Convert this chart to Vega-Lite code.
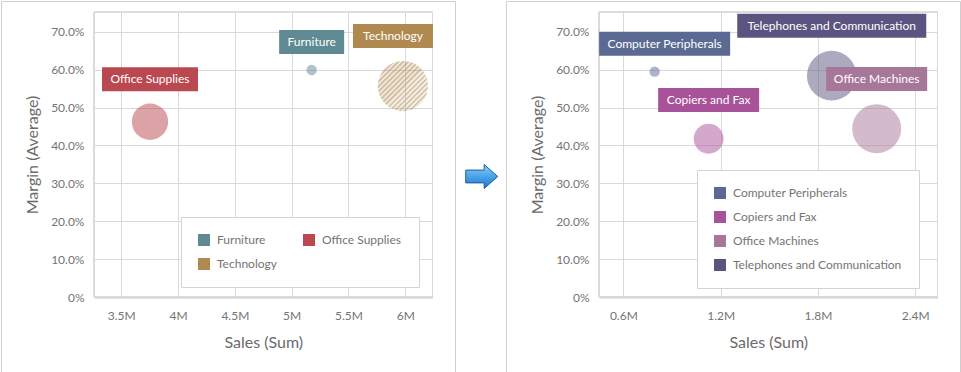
{
  "$schema": "https://vega.github.io/schema/vega-lite/v6.json",
  "padding": 0,
  "background": "white",
  "spacing": 0,
  "resolve": {"scale": {"color": "independent", "size": "independent"}, "legend": {"color": "independent", "size": "independent"}},
  "config": {
    "font": "Lato",
    "view": {"stroke": "#cfcfcf"},
    "concat": {"spacing": 0},
    "axis": {
      "labelFontSize": 12, "labelColor": "#747474", "labelFlush": false, "labelOverlap": false,
      "titleFontSize": 16, "titleFontWeight": "normal", "titleColor": "#6b6b6b",
      "gridColor": "#d9d9d9", "ticks": false, "domainColor": "#d9d9d9"
    },
    "legend": {
      "orient": "none", "title": null, "symbolType": "square", "symbolSize": 144, "symbolOpacity": 1,
      "symbolStrokeWidth": 0, "labelFontSize": 12, "labelColor": "#747474", "labelOffset": 7, "labelLimit": 400,
      "rowPadding": 12, "padding": 17, "strokeColor": "#d4d4d4", "fillColor": "white"
    }
  },
  "hconcat": [
    {
      "width": 454, "height": 371,
      "view": {"stroke": "#cfcfcf"},
      "data": {"values": [
        {"Category": "Furniture", "Sales": 5176000, "Margin": 0.599, "Quantity": 2340},
        {"Category": "Office Supplies", "Sales": 3753000, "Margin": 0.4625, "Quantity": 8200},
        {"Category": "Technology", "Sales": 5980000, "Margin": 0.5567, "Quantity": 11340}
      ]},
      "encoding": {
        "x": {"field": "Sales", "type": "quantitative",
          "scale": {"domain": [3260000, 6240000], "range": [93, 431.5], "nice": false, "zero": false},
          "axis": {"orient": "top", "offset": -296, "title": "Sales (Sum)", "grid": true,
            "values": [3500000, 4000000, 4500000, 5000000, 5500000, 6000000],
            "labelExpr": "format(datum.value / 1000000, '.1~f') + 'M'",
            "domainColor": "#c8c8c8", "domainWidth": 2, "labelPadding": -13, "labelBaseline": "top",
            "titleY": 45, "titleBaseline": "middle"}},
        "y": {"field": "Margin", "type": "quantitative",
          "scale": {"domain": [0, 0.752], "range": [296, 11], "nice": false, "zero": false},
          "axis": {"orient": "left", "offset": -93, "title": "Margin (Average)", "grid": true,
            "values": [0, 0.1, 0.2, 0.3, 0.4, 0.5, 0.6, 0.7],
            "labelExpr": "datum.value === 0 ? '0%' : format(datum.value, '.1%')",
            "labelPadding": 10, "titlePadding": 10}}
      },
      "layer": [
        {
          "mark": {"type": "rect", "fill": null, "stroke": "#d9d9d9", "strokeWidth": 1},
          "encoding": {
            "x": {"datum": 3260000, "type": "quantitative"},
            "x2": {"datum": 6240000},
            "y": {"datum": 0, "type": "quantitative"},
            "y2": {"datum": 0.752}
          }
        },
        {
          "transform": [{"filter": "datum.Category !== 'Technology'"}],
          "mark": {"type": "point", "filled": true, "opacity": 0.5, "strokeWidth": 0},
          "encoding": {
            "color": {"field": "Category", "type": "nominal",
              "scale": {"domain": ["Furniture", "Office Supplies", "Technology"], "range": ["#5F8A94", "#B94850", "#B08950"]},
              "legend": {"legendX": 180, "legendY": 216, "columns": 2, "direction": "horizontal", "columnPadding": 26}},
            "size": {"field": "Quantity", "type": "quantitative", "scale": {"type": "pow", "exponent": 2, "domain": [0, 12000], "range": [0, 2827]}, "legend": null}
          }
        },
        {
          "transform": [{"filter": "datum.Category === 'Technology'"}],
          "mark": {"type": "point", "filled": true, "opacity": 1, "strokeWidth": 0,
            "fill": {"gradient": "linear", "x1": 0, "y1": 0, "x2": 1, "y2": 1, "stops": [
              {"offset": 0, "color": "rgba(176,137,80,0.5)"}, {"offset": 0.025, "color": "rgba(176,137,80,0.5)"}, {"offset": 0.025, "color": "rgba(176,137,80,0.18)"}, {"offset": 0.05, "color": "rgba(176,137,80,0.18)"},
              {"offset": 0.05, "color": "rgba(176,137,80,0.5)"}, {"offset": 0.075, "color": "rgba(176,137,80,0.5)"}, {"offset": 0.075, "color": "rgba(176,137,80,0.18)"}, {"offset": 0.1, "color": "rgba(176,137,80,0.18)"},
              {"offset": 0.1, "color": "rgba(176,137,80,0.5)"}, {"offset": 0.125, "color": "rgba(176,137,80,0.5)"}, {"offset": 0.125, "color": "rgba(176,137,80,0.18)"}, {"offset": 0.15, "color": "rgba(176,137,80,0.18)"},
              {"offset": 0.15, "color": "rgba(176,137,80,0.5)"}, {"offset": 0.175, "color": "rgba(176,137,80,0.5)"}, {"offset": 0.175, "color": "rgba(176,137,80,0.18)"}, {"offset": 0.2, "color": "rgba(176,137,80,0.18)"},
              {"offset": 0.2, "color": "rgba(176,137,80,0.5)"}, {"offset": 0.225, "color": "rgba(176,137,80,0.5)"}, {"offset": 0.225, "color": "rgba(176,137,80,0.18)"}, {"offset": 0.25, "color": "rgba(176,137,80,0.18)"},
              {"offset": 0.25, "color": "rgba(176,137,80,0.5)"}, {"offset": 0.275, "color": "rgba(176,137,80,0.5)"}, {"offset": 0.275, "color": "rgba(176,137,80,0.18)"}, {"offset": 0.3, "color": "rgba(176,137,80,0.18)"},
              {"offset": 0.3, "color": "rgba(176,137,80,0.5)"}, {"offset": 0.325, "color": "rgba(176,137,80,0.5)"}, {"offset": 0.325, "color": "rgba(176,137,80,0.18)"}, {"offset": 0.35, "color": "rgba(176,137,80,0.18)"},
              {"offset": 0.35, "color": "rgba(176,137,80,0.5)"}, {"offset": 0.375, "color": "rgba(176,137,80,0.5)"}, {"offset": 0.375, "color": "rgba(176,137,80,0.18)"}, {"offset": 0.4, "color": "rgba(176,137,80,0.18)"},
              {"offset": 0.4, "color": "rgba(176,137,80,0.5)"}, {"offset": 0.425, "color": "rgba(176,137,80,0.5)"}, {"offset": 0.425, "color": "rgba(176,137,80,0.18)"}, {"offset": 0.45, "color": "rgba(176,137,80,0.18)"},
              {"offset": 0.45, "color": "rgba(176,137,80,0.5)"}, {"offset": 0.475, "color": "rgba(176,137,80,0.5)"}, {"offset": 0.475, "color": "rgba(176,137,80,0.18)"}, {"offset": 0.5, "color": "rgba(176,137,80,0.18)"},
              {"offset": 0.5, "color": "rgba(176,137,80,0.5)"}, {"offset": 0.525, "color": "rgba(176,137,80,0.5)"}, {"offset": 0.525, "color": "rgba(176,137,80,0.18)"}, {"offset": 0.55, "color": "rgba(176,137,80,0.18)"},
              {"offset": 0.55, "color": "rgba(176,137,80,0.5)"}, {"offset": 0.575, "color": "rgba(176,137,80,0.5)"}, {"offset": 0.575, "color": "rgba(176,137,80,0.18)"}, {"offset": 0.6, "color": "rgba(176,137,80,0.18)"},
              {"offset": 0.6, "color": "rgba(176,137,80,0.5)"}, {"offset": 0.625, "color": "rgba(176,137,80,0.5)"}, {"offset": 0.625, "color": "rgba(176,137,80,0.18)"}, {"offset": 0.65, "color": "rgba(176,137,80,0.18)"},
              {"offset": 0.65, "color": "rgba(176,137,80,0.5)"}, {"offset": 0.675, "color": "rgba(176,137,80,0.5)"}, {"offset": 0.675, "color": "rgba(176,137,80,0.18)"}, {"offset": 0.7, "color": "rgba(176,137,80,0.18)"},
              {"offset": 0.7, "color": "rgba(176,137,80,0.5)"}, {"offset": 0.725, "color": "rgba(176,137,80,0.5)"}, {"offset": 0.725, "color": "rgba(176,137,80,0.18)"}, {"offset": 0.75, "color": "rgba(176,137,80,0.18)"},
              {"offset": 0.75, "color": "rgba(176,137,80,0.5)"}, {"offset": 0.775, "color": "rgba(176,137,80,0.5)"}, {"offset": 0.775, "color": "rgba(176,137,80,0.18)"}, {"offset": 0.8, "color": "rgba(176,137,80,0.18)"},
              {"offset": 0.8, "color": "rgba(176,137,80,0.5)"}, {"offset": 0.825, "color": "rgba(176,137,80,0.5)"}, {"offset": 0.825, "color": "rgba(176,137,80,0.18)"}, {"offset": 0.85, "color": "rgba(176,137,80,0.18)"},
              {"offset": 0.85, "color": "rgba(176,137,80,0.5)"}, {"offset": 0.875, "color": "rgba(176,137,80,0.5)"}, {"offset": 0.875, "color": "rgba(176,137,80,0.18)"}, {"offset": 0.9, "color": "rgba(176,137,80,0.18)"},
              {"offset": 0.9, "color": "rgba(176,137,80,0.5)"}, {"offset": 0.925, "color": "rgba(176,137,80,0.5)"}, {"offset": 0.925, "color": "rgba(176,137,80,0.18)"}, {"offset": 0.95, "color": "rgba(176,137,80,0.18)"},
              {"offset": 0.95, "color": "rgba(176,137,80,0.5)"}, {"offset": 0.975, "color": "rgba(176,137,80,0.5)"}, {"offset": 0.975, "color": "rgba(176,137,80,0.18)"}, {"offset": 1, "color": "rgba(176,137,80,0.18)"}
            ]}},
          "encoding": {
            "size": {"field": "Quantity", "type": "quantitative", "legend": null}
          }
        },
        {
          "transform": [{"filter": "datum.Category === 'Office Supplies'"}],
          "encoding": {"color": {"field": "Category", "type": "nominal", "legend": null}},
          "layer": [
            {"mark": {"type": "rect", "width": 96, "height": 24, "align": "center", "baseline": "middle", "yOffset": -42.5}},
            {"mark": {"type": "text", "fontSize": 12, "align": "center", "baseline": "middle", "yOffset": -42.5}, "encoding": {"text": {"field": "Category"}, "color": {"value": "white"}}}
          ]
        },
        {
          "transform": [{"filter": "datum.Category === 'Furniture'"}],
          "encoding": {"color": {"field": "Category", "type": "nominal", "legend": null}},
          "layer": [
            {"mark": {"type": "rect", "width": 65, "height": 24, "align": "center", "baseline": "middle", "yOffset": -28}},
            {"mark": {"type": "text", "fontSize": 12, "align": "center", "baseline": "middle", "yOffset": -28}, "encoding": {"text": {"field": "Category"}, "color": {"value": "white"}}}
          ]
        },
        {
          "transform": [{"filter": "datum.Category === 'Technology'"}],
          "encoding": {"color": {"field": "Category", "type": "nominal", "legend": null}},
          "layer": [
            {"mark": {"type": "rect", "width": 80, "height": 24, "align": "center", "baseline": "middle", "xOffset": -10, "yOffset": -50}},
            {"mark": {"type": "text", "fontSize": 12, "align": "center", "baseline": "middle", "xOffset": -10, "yOffset": -50}, "encoding": {"text": {"field": "Category"}, "color": {"value": "white"}}}
          ]
        }
      ]
    },
    {
      "width": 48.5, "height": 371,
      "view": {"stroke": null},
      "data": {"values": [{"Step": "to"}]},
      "mark": {"type": "point", "shape": "M -1 -0.4 L 0.15 -0.4 L 0.15 -0.75 L 1 0 L 0.15 0.75 L 0.15 0.4 L -1 0.4 Z",
        "size": 1024, "filled": true, "opacity": 1, "xOffset": 1.5, "yOffset": -10,
        "stroke": "#1d5c9c", "strokeWidth": 1,
        "fill": {"gradient": "linear", "x1": 0, "y1": 0, "x2": 0, "y2": 1, "stops": [
          {"offset": 0, "color": "#8ccdf7"}, {"offset": 0.5, "color": "#4aa3ea"}, {"offset": 1, "color": "#1f74cf"}]}},
      "encoding": {}
    },
    {
      "width": 454, "height": 371,
      "view": {"stroke": "#cfcfcf"},
      "data": {"values": [
        {"Category": "Computer Peripherals", "Sales": 793000, "Margin": 0.5945, "Quantity": 2340},
        {"Category": "Copiers and Fax", "Sales": 1126000, "Margin": 0.4177, "Quantity": 6740},
        {"Category": "Office Machines", "Sales": 2162000, "Margin": 0.444, "Quantity": 11060},
        {"Category": "Telephones and Communication", "Sales": 1885000, "Margin": 0.584, "Quantity": 11200}
      ]},
      "encoding": {
        "x": {"field": "Sales", "type": "quantitative",
          "scale": {"domain": [450000, 2537000], "range": [93, 431.5], "nice": false, "zero": false},
          "axis": {"orient": "top", "offset": -296, "title": "Sales (Sum)", "grid": true,
            "values": [600000, 1200000, 1800000, 2400000],
            "labelExpr": "format(datum.value / 1000000, '.1~f') + 'M'",
            "domainColor": "#c8c8c8", "domainWidth": 2, "labelPadding": -13, "labelBaseline": "top",
            "titleY": 45, "titleBaseline": "middle"}},
        "y": {"field": "Margin", "type": "quantitative",
          "scale": {"domain": [0, 0.752], "range": [296, 11], "nice": false, "zero": false},
          "axis": {"orient": "left", "offset": -93, "title": "Margin (Average)", "grid": true,
            "values": [0, 0.1, 0.2, 0.3, 0.4, 0.5, 0.6, 0.7],
            "labelExpr": "datum.value === 0 ? '0%' : format(datum.value, '.1%')",
            "labelPadding": 10, "titlePadding": 10}}
      },
      "layer": [
        {
          "mark": {"type": "rect", "fill": null, "stroke": "#d9d9d9", "strokeWidth": 1},
          "encoding": {
            "x": {"datum": 450000, "type": "quantitative"},
            "x2": {"datum": 2537000},
            "y": {"datum": 0, "type": "quantitative"},
            "y2": {"datum": 0.752}
          }
        },
        {
          "mark": {"type": "point", "filled": true, "opacity": 0.5, "strokeWidth": 0},
          "encoding": {
            "color": {"field": "Category", "type": "nominal",
              "scale": {"domain": ["Computer Peripherals", "Copiers and Fax", "Office Machines", "Telephones and Communication"], "range": ["#5B6A93", "#A8529A", "#A7779A", "#5B5480"]},
              "legend": {"legendX": 191, "legendY": 169, "columns": 1}},
            "size": {"field": "Quantity", "type": "quantitative", "scale": {"type": "pow", "exponent": 2, "domain": [0, 12000], "range": [0, 2827]}, "legend": null}
          }
        },
        {
          "transform": [{"filter": "datum.Category === 'Computer Peripherals'"}],
          "encoding": {"color": {"field": "Category", "type": "nominal", "legend": null}},
          "layer": [
            {"mark": {"type": "rect", "width": 131, "height": 24, "align": "center", "baseline": "middle", "xOffset": 10, "yOffset": -28}},
            {"mark": {"type": "text", "fontSize": 12, "align": "center", "baseline": "middle", "xOffset": 10, "yOffset": -28}, "encoding": {"text": {"field": "Category"}, "color": {"value": "white"}}}
          ]
        },
        {
          "transform": [{"filter": "datum.Category === 'Copiers and Fax'"}],
          "encoding": {"color": {"field": "Category", "type": "nominal", "legend": null}},
          "layer": [
            {"mark": {"type": "rect", "width": 101, "height": 24, "align": "center", "baseline": "middle", "yOffset": -38.7}},
            {"mark": {"type": "text", "fontSize": 12, "align": "center", "baseline": "middle", "yOffset": -38.7}, "encoding": {"text": {"field": "Category"}, "color": {"value": "white"}}}
          ]
        },
        {
          "transform": [{"filter": "datum.Category === 'Telephones and Communication'"}],
          "encoding": {"color": {"field": "Category", "type": "nominal", "legend": null}},
          "layer": [
            {"mark": {"type": "rect", "width": 189, "height": 24, "align": "center", "baseline": "middle", "yOffset": -50}},
            {"mark": {"type": "text", "fontSize": 12, "align": "center", "baseline": "middle", "yOffset": -50}, "encoding": {"text": {"field": "Category"}, "color": {"value": "white"}}}
          ]
        },
        {
          "transform": [{"filter": "datum.Category === 'Office Machines'"}],
          "encoding": {"color": {"field": "Category", "type": "nominal", "legend": null}},
          "layer": [
            {"mark": {"type": "rect", "width": 101, "height": 24, "align": "center", "baseline": "middle", "yOffset": -49.7}},
            {"mark": {"type": "text", "fontSize": 12, "align": "center", "baseline": "middle", "yOffset": -49.7}, "encoding": {"text": {"field": "Category"}, "color": {"value": "white"}}}
          ]
        }
      ]
    }
  ]
}
